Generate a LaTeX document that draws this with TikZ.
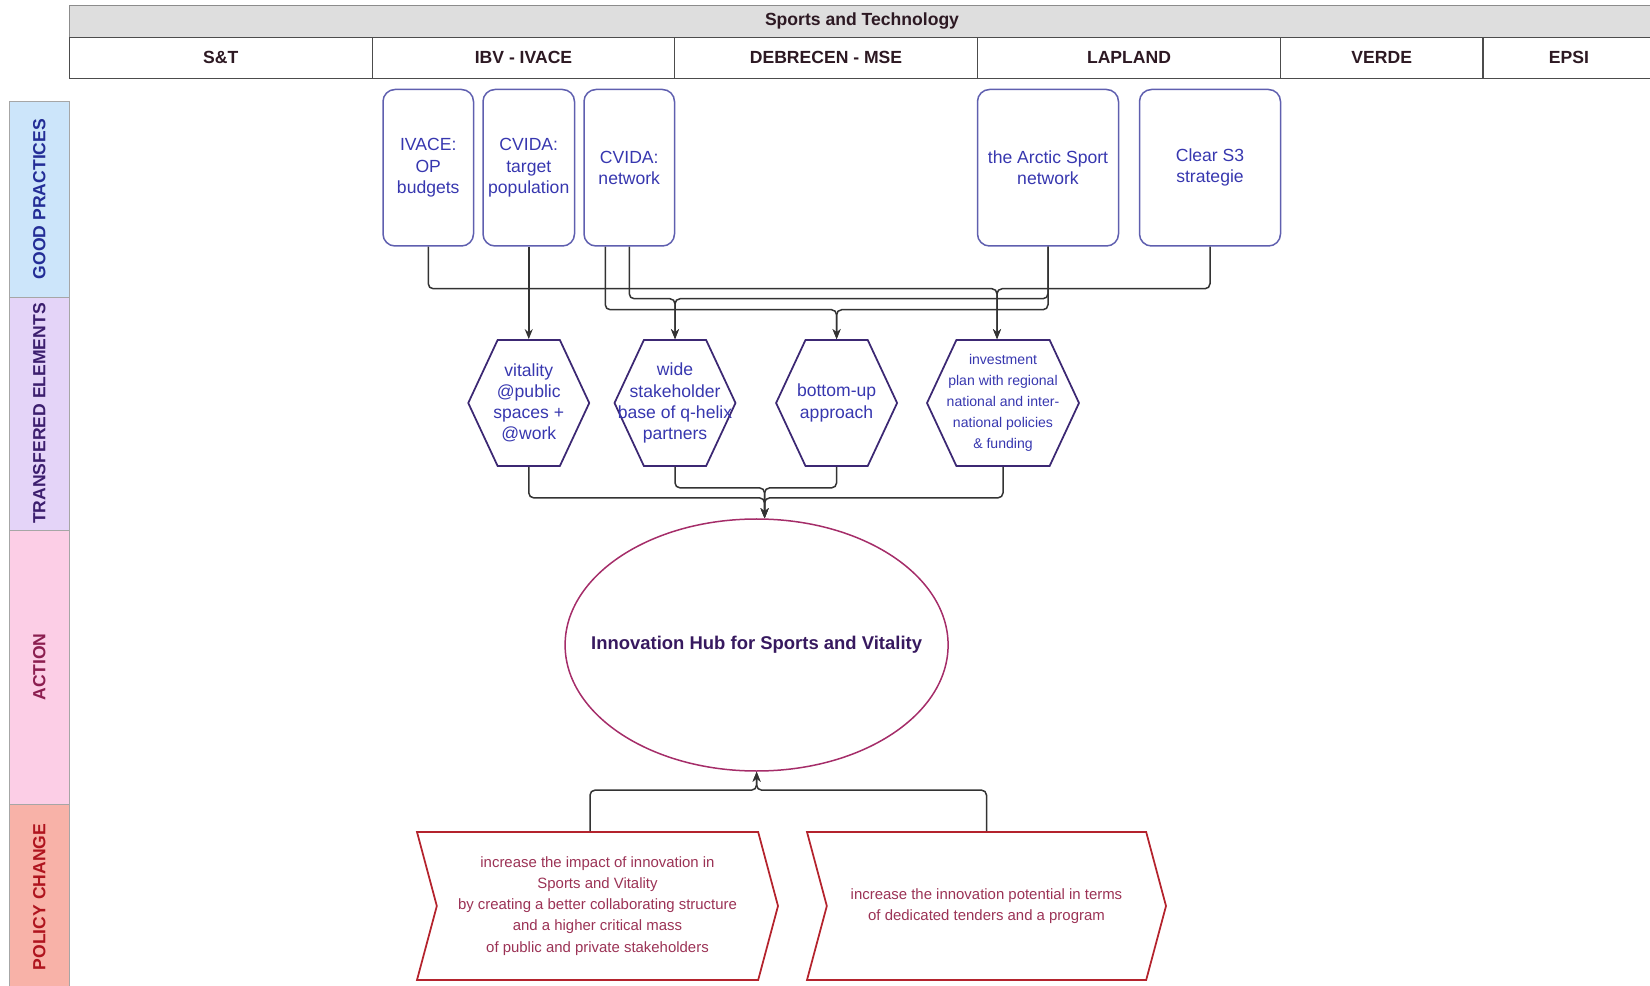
\documentclass[tikz,border=0pt]{standalone}
\usepackage{fontspec}
\setmainfont{Liberation Sans}
\usetikzlibrary{shapes.geometric,shapes.symbols,arrows.meta}

\definecolor{headfill}{RGB}{222,222,222}
\definecolor{headline}{RGB}{140,140,140}
\definecolor{coltext}{RGB}{45,25,35}
\definecolor{gpfill}{RGB}{204,229,250}
\definecolor{gptext}{RGB}{35,45,150}
\definecolor{tefill}{RGB}{228,212,248}
\definecolor{tetext}{RGB}{60,30,110}
\definecolor{actfill}{RGB}{252,206,230}
\definecolor{acttext}{RGB}{140,30,80}
\definecolor{pcfill}{RGB}{248,178,168}
\definecolor{pctext}{RGB}{175,20,30}
\definecolor{boxline}{RGB}{95,95,175}
\definecolor{boxtext}{RGB}{55,55,175}
\definecolor{hexline}{RGB}{60,40,115}
\definecolor{hubline}{RGB}{165,45,105}
\definecolor{hubfont}{RGB}{55,25,95}
\definecolor{chline}{RGB}{180,35,45}
\definecolor{chtext}{RGB}{155,50,85}

\tikzset{
  colhead/.style={draw=black!70, fill=white, minimum height=8.2mm, inner sep=0, text=coltext, font=\bfseries\fontsize{10}{12}\selectfont},
  lane/.style={draw=black!35, rotate=90, minimum height=11.9mm, inner sep=0, font=\bfseries\fontsize{10}{12}\selectfont},
  practice/.style={draw=boxline, line width=0.3mm, rounded corners=2.4mm, minimum height=31.3mm, inner sep=0, align=center, text=boxtext, font=\fontsize{10}{12}\selectfont},
  element/.style={shape=signal, signal to=east and west, signal pointer angle=130, draw=hexline, line width=0.35mm, minimum height=25.2mm, inner sep=0},
  elemtext/.style={align=center, inner sep=0, text=boxtext, font=\fontsize{10}{12}\selectfont},
  change/.style={shape=signal, signal from=west, signal to=east, signal pointer angle=150, draw=chline, line width=0.35mm, minimum height=29.6mm, inner sep=0, align=center, text=chtext, font=\fontsize{8.5}{12}\selectfont},
  link/.style={->, draw=black!80, line width=0.3mm, rounded corners=1mm}
}

\begin{document}
\begin{tikzpicture}[x=0.2mm, y=-0.2mm, >={Stealth[length=2mm,width=1.6mm]}]
\useasboundingbox (0,0) rectangle (1650,986);

% header and partner columns
\node (title) [draw=headline, fill=headfill, minimum width=317.2mm, minimum height=6.4mm, inner sep=0, text=coltext, font=\bfseries\fontsize{10}{12}\selectfont] at (862,21) {Sports and Technology};
\node (st) [colhead, minimum width=60.7mm] at (220.75,57.5) {S\&T};
\node (ibv) [colhead, minimum width=60.4mm] at (523.5,57.5) {IBV - IVACE};
\node (deb) [colhead, minimum width=60.6mm] at (826,57.5) {DEBRECEN - MSE};
\node (lap) [colhead, minimum width=60.6mm] at (1129,57.5) {LAPLAND};
\node (verde) [colhead, minimum width=40.4mm] at (1381.7,57.5) {VERDE};
\node (epsi) [colhead, minimum width=34.4mm] at (1569,57.5) {EPSI};

% swimlanes
\node (gp) [lane, fill=gpfill, text=gptext, minimum width=39.2mm] at (39.25,199) {GOOD PRACTICES};
\node (te) [lane, fill=tefill, text=tetext, minimum width=46.6mm] at (39.25,413.5) {TRANSFERED ELEMENTS};
\node (act) [lane, fill=actfill, text=acttext, minimum width=54.8mm] at (39.25,667) {ACTION};
\node (pc) [lane, fill=pcfill, text=pctext, minimum width=37.2mm] at (39.25,897) {POLICY CHANGE};

% good practices
\node (ivace) [practice, minimum width=18.1mm] at (428.25,167.75) {IVACE:\\OP\\budgets};
\node (target) [practice, minimum width=18.3mm] at (528.75,167.75) {CVIDA:\\target\\population};
\node (network) [practice, minimum width=18.1mm] at (629.25,167.75) {CVIDA:\\network};
\node (arctic) [practice, minimum width=28.2mm] at (1048,167.75) {the Arctic Sport\\network};
\node (clears3) [practice, minimum width=28.2mm] at (1210,167.75) {Clear S3\\strategie};

% transferred elements
\node (vitality) [element, minimum width=24.2mm] at (528.75,403) {};
\node (vitalitytext) [elemtext] at (vitality) {vitality\\@public\\spaces +\\@work};
\node (stake) [element, minimum width=24.2mm] at (675,403) {};
\node (staketext) [elemtext] at (stake) {wide\\stakeholder\\base of q-helix\\partners};
\node (bottom) [element, minimum width=24.2mm] at (836.6,403) {};
\node (bottomtext) [elemtext] at (bottom) {bottom-up\\approach};
\node (invest) [element, minimum width=30.4mm] at (1003,403) {};
\node (investtext) [elemtext, font=\fontsize{8}{12}\selectfont] at (invest) {investment\\plan with regional\\national and inter-\\national policies\\\& funding};

% action
\node (hub) [draw=hubline, line width=0.3mm, shape=ellipse, minimum width=76.6mm, minimum height=50.4mm, inner sep=0] at (756.6,645) {};
\node (hubtext) [text=hubfont, inner sep=0, font=\bfseries\fontsize{10.5}{12}\selectfont] at (hub) {Innovation Hub for Sports and Vitality};

% policy change
\node (impact) [change, minimum width=72.2mm] at (597.5,906) {increase the impact of innovation in\\Sports and Vitality\\by creating a better collaborating structure\\and a higher critical mass\\of public and private stakeholders};
\node (tenders) [change, minimum width=71.8mm] at (986.5,906) {increase the innovation potential in terms\\of dedicated tenders and a program};

% connectors
\draw[link] (ivace.south) -- ++(0,42) -| ([xshift=-1.2mm]invest.north);
\draw[link] (clears3.south) -- ++(0,42) -| ([xshift=-1.2mm]invest.north);
\draw[link] (target.south) -- (target.south |- vitality.north);
\draw[link] (network.south) -- ++(0,52) -| (stake.north);
\draw[link] ([xshift=-4.8mm]network.south) -- ++(0,63) -| (bottom.north);
\draw[link] (arctic.south) -- ++(0,52) -| (stake.north);
\draw[link] (arctic.south) -- ++(0,63) -| (bottom.north);

\draw[link] (vitality.south) -- ++(0,31) -| ([xshift=1.6mm]hub.north);
\draw[link] (invest.south) -- ++(0,31) -| ([xshift=1.6mm]hub.north);
\draw[link] (stake.south) -- ++(0,21) -| ([xshift=1.6mm]hub.north);
\draw[link] (bottom.south) -- ++(0,21) -| ([xshift=1.6mm]hub.north);

\draw[link] ([xshift=-1.5mm]impact.north) -- ++(0,-41) -| (hub.south);
\draw[link] (tenders.north) -- ++(0,-41) -| (hub.south);

\end{tikzpicture}
\end{document}
